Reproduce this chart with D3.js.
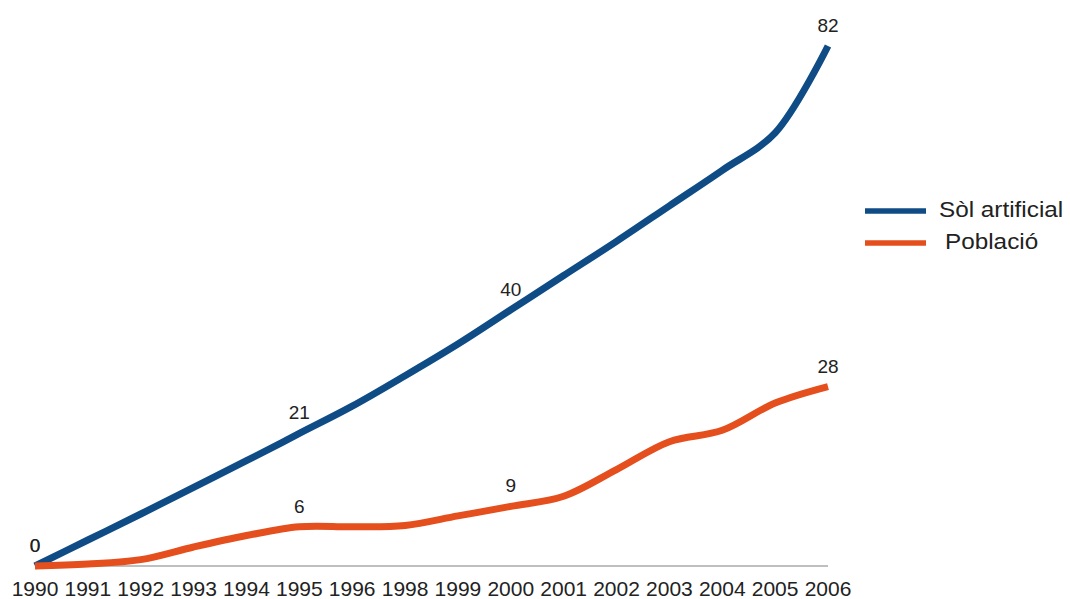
<!DOCTYPE html>
<html>
<head>
<meta charset="utf-8">
<script src="https://cdn.jsdelivr.net/npm/d3@7"></script>
<style>
  body { margin: 0; background: #fff; }
  text { font-family: "Liberation Sans", Arial, sans-serif; fill: #222; }
</style>
</head>
<body>
<script>
'use strict';

// anys (1997 no surt a l'original)
const years = ["1990", "1991", "1992", "1993", "1994", "1995", "1996", "1998",
               "1999", "2000", "2001", "2002", "2003", "2004", "2005", "2006"];

// creixement acumulat (%)
const solArtificial = [0, 4.1, 8.2, 12.4, 16.6, 20.9, 25.2, 30.0,
                       35.0, 40.4, 45.8, 51.2, 56.8, 62.4, 68.3, 82];
const poblacio = [0, 0.3, 1.0, 3.0, 4.8, 6.2, 6.2, 6.4,
                  7.9, 9.4, 11.0, 15.2, 19.6, 21.4, 25.7, 28.3];

// punts amb etiqueta
const labelIdx = [0, 5, 9, 15];

const seriesNames = ["Sòl artificial", "Població"];
const colors = ["#0f4c86", "#e44f1d"];

const width = 1070, height = 599;

const svg = d3.select("body").append("svg")
    .attr("width", width)
    .attr("height", height);

const x = d3.scalePoint().domain(years).range([35, 828]);
const y = d3.scaleLinear().domain([0, 82]).range([566, 46]);

// eix x
svg.append("line")
    .attr("x1", x(years[0])).attr("x2", x(years[years.length - 1]))
    .attr("y1", y(0)).attr("y2", y(0))
    .attr("stroke", "#aaa")
    .attr("stroke-width", 1.5);

svg.selectAll(".year")
    .data(years)
  .enter().append("text")
    .attr("class", "year")
    .attr("x", (d) => x(d))
    .attr("y", 596)
    .attr("text-anchor", "middle")
    .style("font-size", "21px")
    .text((d) => d);

const line = d3.line()
    .x((d, i) => x(years[i]))
    .y((d) => y(d))
    .curve(d3.curveCatmullRom.alpha(0.5));

const series = [solArtificial, poblacio];

svg.selectAll(".serie")
    .data(series)
  .enter().append("path")
    .attr("class", "serie")
    .attr("d", (d) => line(d))
    .attr("fill", "none")
    .attr("stroke", (d, i) => colors[i])
    .attr("stroke-width", 7);

// etiquetes de valor
series.forEach((s, si) => {
  svg.selectAll(".lbl" + si)
      .data(labelIdx)
    .enter().append("text")
      .attr("class", "lbl" + si)
      .attr("x", (i) => x(years[i]))
      .attr("y", (i) => y(s[i]) - 14)
      .attr("text-anchor", "middle")
      .style("font-size", "19px")
      .text((i) => Math.round(s[i]));
});

// llegenda (el text de l'original surt una mica eixamplat)
const legend = svg.selectAll(".legend")
    .data(seriesNames)
  .enter().append("g")
    .attr("class", "legend")
    .attr("transform", (d, i) => "translate(865," + (211 + i * 32) + ")");

legend.append("line")
    .attr("x1", 0).attr("x2", 61)
    .attr("stroke", (d, i) => colors[i])
    .attr("stroke-width", 5.5);

legend.append("text")
    .attr("transform", (d, i) => "translate(" + (i === 0 ? 74 : 80) + ",6) scale(1.13,1)")
    .style("font-size", "21.5px")
    .text((d) => d);
</script>
</body>
</html>
